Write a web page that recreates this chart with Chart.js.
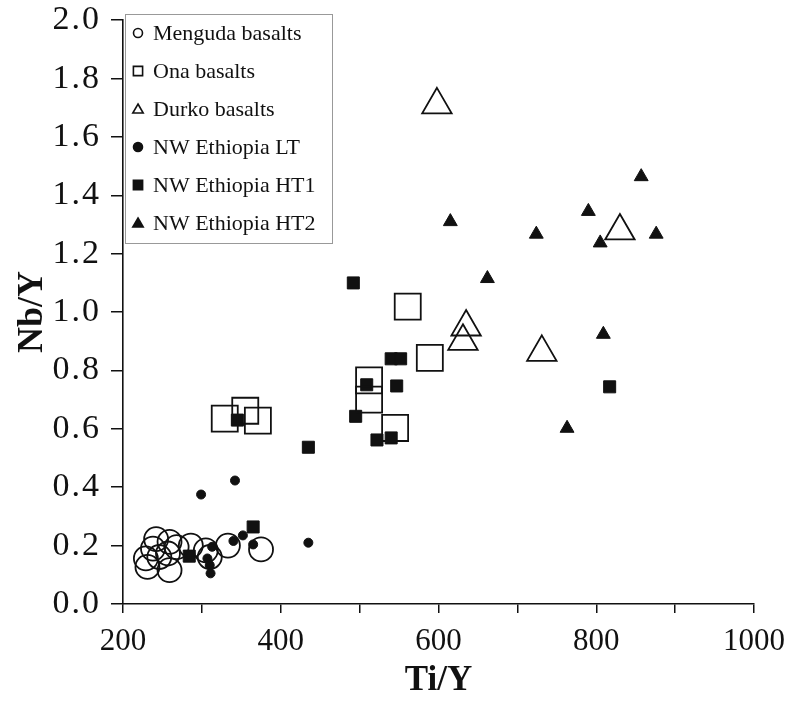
<!DOCTYPE html>
<html><head><meta charset="utf-8">
<script src="https://cdn.jsdelivr.net/npm/chart.js@4/dist/chart.umd.min.js"></script>
<style>html,body{margin:0;padding:0;background:#fff}</style>
</head><body>
<canvas id="c" width="787" height="704"></canvas>
<script>
// ---- data (Ti/Y, Nb/Y) ----
const seriesNames = ["Menguda basalts","Ona basalts","Durko basalts","NW Ethiopia LT","NW Ethiopia HT1","NW Ethiopia HT2"];
const mengudaX = [242,259,229,246,231,259,257,286,305,310,333,375,238,268];
const mengudaY = [0.222,0.213,0.156,0.161,0.127,0.116,0.173,0.200,0.184,0.161,0.200,0.187,0.190,0.195];
const onaX = [329,355,371,512,512,545,561,589];
const onaY = [0.635,0.662,0.628,0.766,0.700,0.603,1.019,0.843];
const durkoX = [598,635,631,731,830];
const durkoY = [1.71,0.949,0.900,0.862,1.278];
const ltX = [299,342,313,307,310,311,340,352,365,435];
const ltY = [0.375,0.423,0.196,0.156,0.133,0.105,0.216,0.235,0.204,0.210];
const ht1X = [284,365,345,435,492,495,509,547,522,540,540,552,817];
const ht1Y = [0.164,0.264,0.630,0.537,1.100,0.643,0.751,0.747,0.562,0.569,0.840,0.840,0.744];
const ht2X = [615,662,724,790,805,809,857,876,763];
const ht2Y = [1.310,1.115,1.267,1.345,1.237,0.924,1.464,1.267,0.602];
const xTicks = [200,400,600,800,1000];
const yTicks = [0.0,0.2,0.4,0.6,0.8,1.0,1.2,1.4,1.6,1.8,2.0];

const pts = (xs, ys) => xs.map((x, i) => ({x: x, y: ys[i]}));
const SERIF = "'Liberation Serif','Times New Roman',serif";

function ds(label, xs, ys, style, r, filled, bw) {
  return {
    label: label, data: pts(xs, ys), pointStyle: style, pointRadius: r, pointHoverRadius: r,
    pointBackgroundColor: filled ? '#111' : 'rgba(0,0,0,0)', pointBorderColor: '#111',
    pointBorderWidth: bw, showLine: false
  };
}

const legendPlugin = {
  id: 'boxLegend',
  beforeDraw(chart) {
    const s = chart.scales.y;
    if (s && !s._lsPatched) {
      const orig = s.drawLabels;
      s.drawLabels = function (area) {
        const c = this.ctx; c.save(); c.letterSpacing = '2px'; orig.call(this, area); c.restore();
      };
      s._lsPatched = true;
    }
  },
  afterDraw(chart) {
    const ctx = chart.ctx;
    const items = [
      ['circle', false], ['rect', false], ['triangle', false],
      ['circle', true], ['rect', true], ['triangle', true]
    ];
    ctx.save();
    ctx.strokeStyle = '#999';
    ctx.lineWidth = 1;
    ctx.strokeRect(125.5, 14.5, 207, 229);
    ctx.font = "22px " + SERIF;
    ctx.textBaseline = 'middle';
    items.forEach((it, i) => {
      const y = 33 + i * 38;
      ctx.fillStyle = it[1] ? '#111' : 'rgba(0,0,0,0)';
      ctx.strokeStyle = '#111';
      ctx.lineWidth = 1.6;
      Chart.helpers.drawPoint(ctx, {pointStyle: it[0], radius: it[0] === 'triangle' ? 6 : (it[0] === 'rect' ? 6.5 : 4.5), borderWidth: 1.6, rotation: 0}, 138, y + (it[0] === 'triangle' ? 1 : 0));
      ctx.fillStyle = '#111';
      ctx.fillText(seriesNames[i], 153, y + 1);
    });
    ctx.restore();
  }
};

new Chart(document.getElementById('c'), {
  type: 'scatter',
  data: {
    datasets: [
      ds(seriesNames[0], mengudaX, mengudaY, 'circle', 12, false, 1.8),
      ds(seriesNames[1], onaX, onaY, 'rect', 18.4, false, 1.8),
      ds(seriesNames[2], durkoX, durkoY, 'triangle', 17, false, 1.8),
      ds(seriesNames[3], ltX, ltY, 'circle', 4.5, true, 1),
      ds(seriesNames[4], ht1X, ht1Y, 'rect', 8.5, true, 1),
      ds(seriesNames[5], ht2X, ht2Y, 'triangle', 8, true, 1)
    ]
  },
  options: {
    responsive: false, animation: false, devicePixelRatio: 1,
    layout: {padding: {left: 0, right: 33, top: 18, bottom: 0}},
    plugins: {legend: {display: false}, tooltip: {enabled: false}},
    scales: {
      x: {
        type: 'linear', min: 200, max: 1000,
        afterFit(s) { s.height = 100; s.paddingLeft = 0; s.paddingRight = 0; },
        ticks: {
          stepSize: 100, autoSkip: false, maxRotation: 0, color: '#111', padding: 10,
          font: {family: SERIF, size: 31},
          callback: v => xTicks.includes(v) ? String(v) : ''
        },
        grid: {drawOnChartArea: false, drawTicks: true, tickLength: 9, color: '#111', lineWidth: 1.5},
        border: {display: true, color: '#111', width: 1.6},
        title: {display: true, text: 'Ti/Y', color: '#111', font: {family: SERIF, size: 35, weight: 'bold'}, padding: {top: 0, bottom: 2}}
      },
      y: {
        type: 'linear', min: 0, max: 2,
        afterFit(s) { s.width = 123; s.paddingTop = 0; s.paddingBottom = 0; },
        ticks: {
          stepSize: 0.2, color: '#111', padding: 10,
          font: {family: SERIF, size: 34},
          callback: v => { const t = yTicks.find(k => Math.abs(k - v) < 1e-6); return t === undefined ? '' : t.toFixed(1); }
        },
        grid: {drawOnChartArea: false, drawTicks: true, tickLength: 12, color: '#111', lineWidth: 1.5},
        border: {display: true, color: '#111', width: 1.6},
        title: {display: true, text: 'Nb/Y', color: '#111', font: {family: SERIF, size: 36, weight: 'bold'}, padding: {top: 11, bottom: 0}}
      }
    }
  },
  plugins: [legendPlugin]
});
</script>
</body></html>
